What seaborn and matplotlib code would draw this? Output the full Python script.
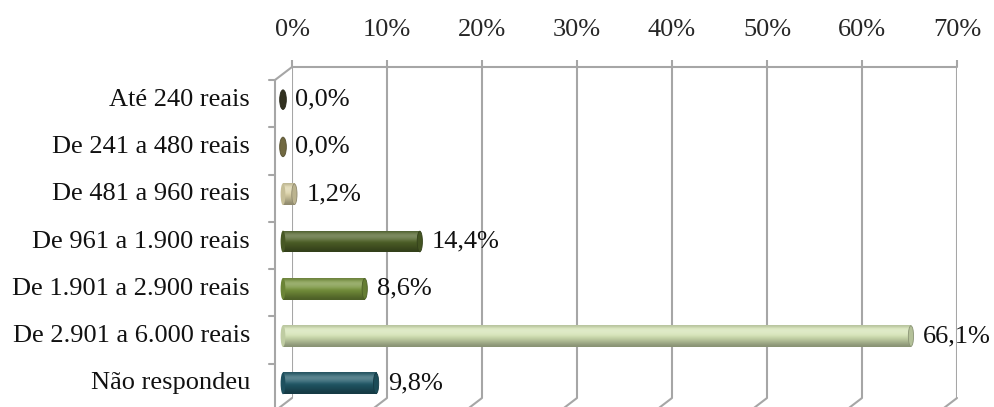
import numpy as np
import pandas as pd
import matplotlib
matplotlib.use("Agg")
import matplotlib.pyplot as plt
import matplotlib.transforms as mtransforms
from matplotlib.patches import Ellipse
from matplotlib.colors import to_rgb
import seaborn as sns

# Faixas de renda e percentuais de respondentes
categories = [
    "Até 240 reais",
    "De 241 a 480 reais",
    "De 481 a 960 reais",
    "De 961 a 1.900 reais",
    "De 1.901 a 2.900 reais",
    "De 2.901 a 6.000 reais",
    "Não respondeu",
]
values = [0.0, 0.0, 1.2, 14.4, 8.6, 66.1, 9.8]
colors = ["#3b3a26", "#857b4c", "#dcd3a8", "#4f6228", "#77933c", "#d4e3b4", "#215968"]
xticks = [0, 10, 20, 30, 40, 50, 60, 70]

sns.set_theme(style="white")
plt.rcParams["font.family"] = ["Liberation Serif", "DejaVu Serif"]

W, H, DPI = 994, 407, 100
FS = 19
fig = plt.figure(figsize=(W / DPI, H / DPI), dpi=DPI)

# back wall of the pseudo-3D plot area, in pixels
bx0, bx1, by_top, by_bot = 292, 957, 67, 398
ax = fig.add_axes([bx0 / W, (H - by_bot) / H, (bx1 - bx0) / W, (by_bot - by_top) / H])

df = pd.DataFrame({"faixa": categories, "pct": values})
sns.barplot(data=df, x="pct", y="faixa", hue="faixa", palette=colors,
            orient="h", width=0.46, legend=False, ax=ax, saturation=1)

ax.set_xlim(0, 70)
ax.set_ylim(len(categories) - 0.5, -0.5)
for s in ax.spines.values():
    s.set_visible(False)
ax.set_ylabel("")
ax.set_xlabel("")
ax.set_yticks([])
ax.xaxis.tick_top()
ax.set_xticks(xticks)
ax.set_xticklabels([f"{t}%" for t in xticks], fontsize=FS)
ax.tick_params(axis="x", length=5, width=1.5, color="#a6a6a6", pad=14)


def px_offset(dx, dy):
    return mtransforms.ScaledTranslation(dx / DPI, -dy / DPI, fig.dpi_scale_trans)


grid_c = "#a6a6a6"
# vertical gridlines on the back wall and their floor edges
for t in xticks:
    ax.plot([t, t], [-0.5, len(categories) - 0.5], color=grid_c, lw=1.5, zorder=0)
    p0 = ax.transData.transform((t, len(categories) - 0.5))
    fig.add_artist(plt.Line2D([p0[0] / W, (p0[0] - 17) / W],
                              [p0[1] / H, (p0[1] - 13) / H],
                              transform=fig.transFigure, color=grid_c, lw=1.5))
# top edge of the back wall
ax.plot([0, 70], [-0.5, -0.5], color=grid_c, lw=1.5, zorder=0, clip_on=False)

# left wall: slanted top edge, front vertical edge and category ticks
fx = (bx0 - 17) / W
fig.add_artist(plt.Line2D([bx0 / W, fx], [(H - by_top) / H, (H - by_top - 13) / H],
                          transform=fig.transFigure, color=grid_c, lw=1.5))
fig.add_artist(plt.Line2D([fx, fx], [(H - by_top - 13) / H, 0],
                          transform=fig.transFigure, color=grid_c, lw=1.5))
step = (by_bot - by_top) / len(categories)
for k in range(len(categories) + 1):
    yy = H - (by_top + 13 + k * step)
    fig.add_artist(plt.Line2D([fx - 6 / W, fx], [yy / H, yy / H],
                              transform=fig.transFigure, color=grid_c, lw=1.5))


def cylinder_shade(rgb):
    # top-to-bottom profile: soft highlight near the top, darker underside
    light = np.array([0.05, 0.18, 0.28, 0.22, 0.12, 0.0, 0.0, 0.0, 0.0, 0.0])
    dark = np.array([0.15, 0.0, 0.0, 0.0, 0.0, 0.05, 0.12, 0.2, 0.28, 0.35])
    out = rgb[None, :] * (1 - dark[:, None])
    out = out + (1 - out) * light[:, None]
    return np.clip(out, 0, 1)


# cylinders sit halfway into the depth of the plot
mid = px_offset(-9, 9)
bars = list(ax.patches)
for patch, col in zip(bars, colors):
    patch.set_transform(ax.transData + mid)
    patch.set_edgecolor("none")
    patch.set_clip_on(False)
    x0, y0 = patch.get_x(), patch.get_y()
    w, h = patch.get_width(), patch.get_height()
    rgb = np.array(to_rgb(col))
    grad = cylinder_shade(rgb)[:, None, :]
    if w > 0:
        im = ax.imshow(grad, extent=[x0, x0 + w, y0 + h, y0], aspect="auto",
                       interpolation="bicubic", transform=ax.transData + mid, zorder=2)
        im.set_clip_path(patch)
        start = Ellipse((x0, y0 + h / 2), 0.5, h, facecolor=tuple(rgb * 0.9),
                        edgecolor="none", transform=ax.transData + mid, zorder=2,
                        clip_on=False)
        ax.add_patch(start)
    cap_w = 0.55 if w > 0 else 0.7
    cap_h = h * 0.95 if w > 0 else h * 0.9
    cap = Ellipse((x0 + w, y0 + h / 2), cap_w, cap_h,
                  facecolor=tuple(np.clip(rgb * 0.85, 0, 1)),
                  edgecolor=tuple(np.clip(rgb * 0.65, 0, 1)), lw=0.6,
                  transform=ax.transData + mid, zorder=3, clip_on=False)
    ax.add_patch(cap)

ax.set_xlim(0, 70)
ax.set_ylim(len(categories) - 0.5, -0.5)

# category names and value labels
for i, (cat, v) in enumerate(zip(categories, values)):
    ax.text(0, i, cat, transform=ax.transData + px_offset(-42, 9),
            ha="right", va="center", fontsize=FS, color="#111111")
    ax.text(v, i, f"{v:.1f}%".replace(".", ","), transform=ax.transData + px_offset(3, 9),
            ha="left", va="center", fontsize=FS, color="#111111")

fig.savefig("out.png", dpi=DPI)
